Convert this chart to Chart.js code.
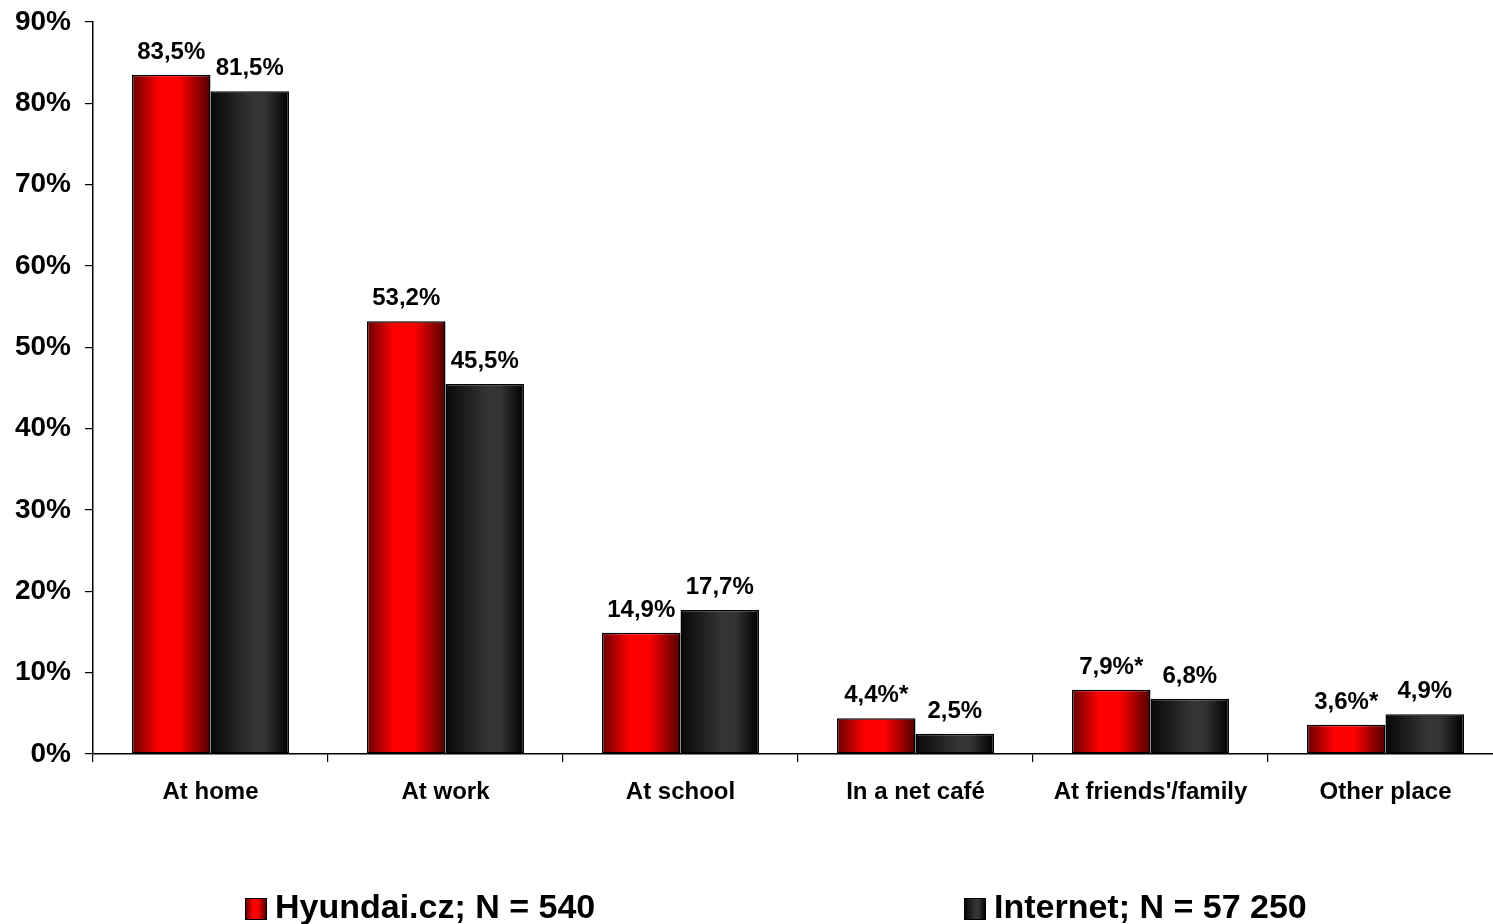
<!DOCTYPE html>
<html>
<head>
<meta charset="utf-8">
<script src="https://cdn.jsdelivr.net/npm/chart.js@4.4.1/dist/chart.umd.min.js"></script>
<style>
    html, body { margin: 0; padding: 0; background: #fff; overflow: hidden; }
    #wrap { position: relative; width: 1510px; height: 924px; }
    #legend { position: absolute; left: 0; top: 888px; width: 1510px; height: 36px;
        font: bold 34px Arial, "Liberation Sans", sans-serif; line-height: 36px; color: #000; }
    .item { position: absolute; top: 0; white-space: nowrap; }
    .box { position: absolute; left: 0; top: 10px; width: 20px; height: 20px; border: 1px solid #000; }
    .text { position: absolute; left: 30px; top: 0; }
</style>
</head>
<body>
<div id="wrap">
    <canvas id="placesChart"></canvas>
    <div id="legend"></div>
</div>
<script>
const categories = ["At home", "At work", "At school", "In a net café", "At friends'/family", "Other place"];
const hyundaiValues = [83.5, 53.2, 14.9, 4.4, 7.9, 3.6];
const internetValues = [81.5, 45.5, 17.7, 2.5, 6.8, 4.9];
const hyundaiNotes = ["", "", "", "*", "*", "*"];
const internetNotes = ["", "", "", "", "", ""];
const seriesNames = ["Hyundai.cz; N = 540", "Internet; N = 57 250"];
const yTicks = [0, 10, 20, 30, 40, 50, 60, 70, 80, 90];

const FONT = "Arial, 'Liberation Sans', sans-serif";

// gradient stops for the cylinder-like shading of each series
const shades = [
    [[0, "#6a0000"], [0.35, "#ff0000"], [0.6, "#ff0000"], [1, "#500000"]],
    [[0, "#080808"], [0.55, "#363636"], [0.7, "#333333"], [1, "#000000"]]
];

const barShading = {
    id: "barShading",
    beforeDatasetsDraw(chart) {
        const ctx = chart.ctx;
        chart.data.datasets.forEach((ds, di) => {
            chart.getDatasetMeta(di).data.forEach(bar => {
                const left = bar.x - bar.width / 2;
                const g = ctx.createLinearGradient(left, 0, left + bar.width, 0);
                shades[di].forEach(([pos, col]) => g.addColorStop(pos, col));
                bar.options.backgroundColor = g;
            });
        });
    }
};

const valueLabels = {
    id: "valueLabels",
    afterDatasetsDraw(chart) {
        const ctx = chart.ctx;
        const notes = [hyundaiNotes, internetNotes];
        ctx.save();
        ctx.font = `bold 24px ${FONT}`;
        ctx.fillStyle = "#000";
        ctx.textAlign = "center";
        ctx.textBaseline = "alphabetic";
        chart.data.datasets.forEach((ds, di) => {
            chart.getDatasetMeta(di).data.forEach((bar, i) => {
                const text = ds.data[i].toFixed(1).replace(".", ",") + "%" + notes[di][i];
                ctx.fillText(text, bar.x, bar.y - 16);
            });
        });
        ctx.restore();
    }
};

const barStyle = {
    backgroundColor: ctx => ctx.datasetIndex === 0 ? "#ff0000" : "#333333",
    borderColor: "#000",
    borderWidth: 1.5,
    borderSkipped: false,
    barPercentage: 1,
    categoryPercentage: 0.668
};

const ctx = document.getElementById("placesChart").getContext("2d");
const placesChart = new Chart(ctx, {
    type: "bar",
    data: {
        labels: categories,
        datasets: [
            { label: seriesNames[0], data: hyundaiValues, ...barStyle },
            { label: seriesNames[1], data: internetValues, ...barStyle }
        ]
    },
    options: {
        responsive: true,
        maintainAspectRatio: false,
        animation: false,
        layout: { padding: { top: 0, right: 7, left: 0, bottom: 0 } },
        plugins: {
            legend: { display: false },
            tooltip: { enabled: false }
        },
        scales: {
            x: {
                offset: true,
                grid: { offset: true, drawOnChartArea: false, tickLength: 8, color: "#000", lineWidth: 1.2 },
                border: { color: "#000", width: 1.5 },
                ticks: { color: "#000", font: { family: FONT, size: 24, weight: "bold" }, padding: 16, maxRotation: 0 },
                afterFit: scale => { scale.height = 170; }
            },
            y: {
                min: 0,
                max: 90,
                afterBuildTicks: scale => { scale.ticks = yTicks.map(v => ({ value: v })); },
                grid: { drawOnChartArea: false, tickLength: 8, color: "#000", lineWidth: 1.2 },
                border: { color: "#000", width: 1.5 },
                ticks: {
                    color: "#000",
                    font: { family: FONT, size: 28, weight: "bold" },
                    padding: 14,
                    callback: v => v + "%"
                },
                afterFit: scale => {
                    scale.width = 93;
                    scale.paddingTop = 22;
                    scale.paddingBottom = 0;
                }
            }
        }
    },
    plugins: [barShading, valueLabels]
});

// legend below the chart
const legend = document.getElementById("legend");
const legendLeft = [245, 964];
const legendFill = [
    "linear-gradient(to right, #6a0000, #ff0000 35%, #ff0000 60%, #500000)",
    "linear-gradient(to right, #080808, #363636 55%, #333 70%, #000)"
];
seriesNames.forEach((name, i) => {
    const item = document.createElement("div");
    item.className = "item";
    item.style.left = legendLeft[i] + "px";
    const box = document.createElement("span");
    box.className = "box";
    box.style.background = legendFill[i];
    const label = document.createElement("span");
    label.className = "text";
    label.textContent = name;
    item.appendChild(box);
    item.appendChild(label);
    legend.appendChild(item);
});
</script>
</body>
</html>
